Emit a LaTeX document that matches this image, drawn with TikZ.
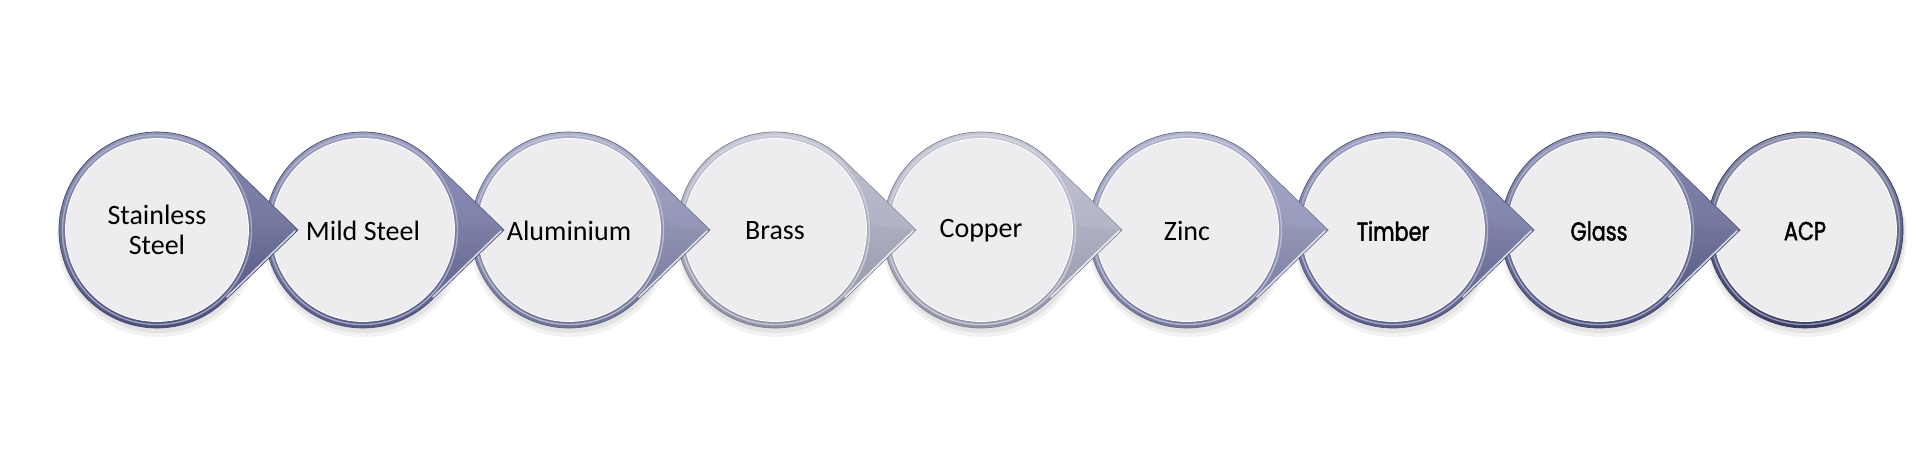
\documentclass[tikz,border=0pt]{standalone}
\usepackage{fontspec}
\setmainfont{Carlito}
\newfontfamily\geofont[FakeStretch=0.8,FakeBold=1.6]{Poppins}
\definecolor{ca}{HTML}{555A90}
\definecolor{cb}{HTML}{62669B}
\definecolor{cc}{HTML}{7E82AD}
\definecolor{cd}{HTML}{A5A7BF}
\definecolor{ce}{HTML}{A9ABC2}
\definecolor{cf}{HTML}{8488B3}
\definecolor{cg}{HTML}{666A9F}
\definecolor{ch}{HTML}{555A8E}
\definecolor{ci}{HTML}{424676}
\definecolor{disc}{HTML}{EDEDEF}
\tikzset{
  lbl/.style={align=center,text=black,font=\fontsize{28}{30}\selectfont},
  geolbl/.style={align=center,text=black,font=\geofont\fontsize{26}{28}\selectfont},
}
\newcommand\bubble[3]{%
 \begin{scope}[shift={(#1,232)}]
  \fill[black,opacity=0.05] (1pt,-6pt) circle (101pt);
  \fill[black,opacity=0.06] (1pt,-4pt) circle (99pt);
  \ifnum#3=1
   \path[top color=#2!60!white, bottom color=#2!85!black, draw=#2!75!black, line width=0.7pt]
     (46pt:98pt) arc (46:314:98pt) -- (141pt,0pt) -- cycle;
   \fill[#2!80!white,opacity=0.55] (46pt:98pt) -- (141pt,0pt) -- (100pt,4pt) -- (75pt,52pt) -- cycle;
   \draw[#2!25!white, line width=1.6pt, line cap=round] (70pt,-67pt) -- (138pt,-1pt);
  \else
   \path[top color=#2!60!white, bottom color=#2!85!black, draw=#2!75!black, line width=0.7pt]
     (0pt,0pt) circle (98pt);
  \fi
  \draw[#2!45!white, line width=1.4pt, opacity=0.8] (0pt,0pt) circle (94.5pt);
  \path[fill=disc, draw=white, line width=0.8pt] (0pt,0pt) circle (91.5pt);
 \end{scope}}
\begin{document}
\begin{tikzpicture}[x=1pt,y=1pt]
\useasboundingbox (0,0) rectangle (1920,462);
\fill[white] (0,0) rectangle (1920,462);
\bubble{1805}{ci}{0}
\bubble{1599}{ch}{1}
\bubble{1393}{cg}{1}
\bubble{1187}{cf}{1}
\bubble{981}{ce}{1}
\bubble{775}{cd}{1}
\bubble{569}{cc}{1}
\bubble{363}{cb}{1}
\bubble{157}{ca}{1}
\node[lbl] (t1) at (157,232) {Stainless\\Steel};
\node[lbl] (t2) at (363,231) {Mild Steel};
\node[lbl] (t3) at (569,231) {Aluminium};
\node[lbl] (t4) at (775,231) {Brass};
\node[lbl] (t5) at (981,231) {Copper};
\node[lbl] (t6) at (1187,231) {Zinc};
\node[geolbl] (t7) at (1393,231) {Timber};
\node[geolbl] (t8) at (1599,231) {Glass};
\node[geolbl] (t9) at (1805,231) {ACP};
\end{tikzpicture}
\end{document}
